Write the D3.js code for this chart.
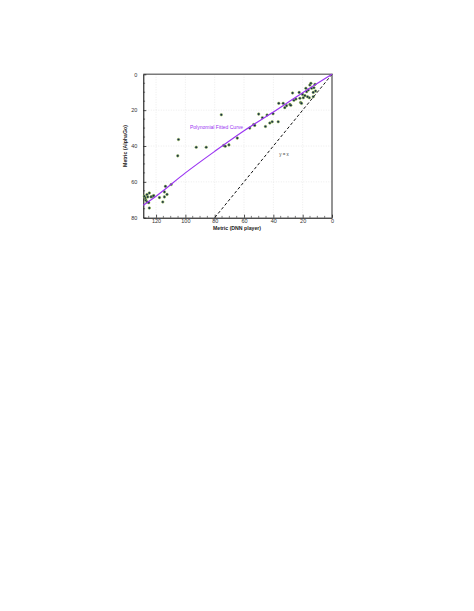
<!DOCTYPE html>
<html>
<head>
<meta charset="utf-8">
<script src="https://cdn.jsdelivr.net/npm/d3@7"></script>
<style>
  html, body { margin: 0; padding: 0; background: #fff; }
  svg { display: block; font-family: "Liberation Sans", Arial, sans-serif; }
</style>
</head>
<body>
<div id="chart"></div>
<script>
// Scatter points: [DNN player metric, AlphaGo metric]
const dnnValues = [
  126.2, 124.6, 125.7, 127.3, 126.9, 126.2, 125.0, 128.0, 124.6, 122.3,
  121.6, 123.4, 117.7, 115.4, 114.3, 114.3, 113.6, 112.5, 109.7, 105.2,
  104.7, 92.6, 85.8, 75.5, 73.9, 72.8, 70.3, 64.6, 56.1, 53.4,
  52.7, 50.0, 47.5, 45.4, 44.3, 42.4, 40.8, 40.2, 36.7, 36.3,
  33.3, 32.2, 31.0, 28.7, 28.1, 26.9, 26.0, 24.6, 22.4, 21.9,
  21.4, 20.8, 20.1, 18.5, 17.8, 17.3, 16.2, 15.5, 15.1, 14.4,
  13.9, 12.8, 11.6, 11.2, 12.3, 16.7, 19.6, 12.8
];
const alphaGoValues = [
  67.1, 66.2, 68.4, 69.0, 70.3, 71.2, 71.6, 68.0, 74.6, 68.1,
  67.7, 68.4, 68.8, 71.2, 65.6, 68.4, 62.5, 67.0, 61.5, 45.5,
  36.4, 40.7, 40.7, 22.6, 39.7, 40.1, 39.4, 35.6, 30.0, 28.0,
  28.5, 22.2, 24.2, 29.1, 22.7, 27.2, 26.5, 22.0, 26.5, 16.2,
  16.2, 18.6, 17.5, 16.8, 17.3, 10.4, 14.5, 13.8, 10.1, 13.4,
  15.7, 16.2, 11.2, 11.9, 7.8, 9.7, 8.8, 13.1, 6.0, 5.0,
  7.8, 10.1, 5.6, 9.3, 7.5, 12.5, 13.1, 12.5
];

// Polynomial fitted curve
const curveX = [0, 20, 40, 60, 80, 100, 120, 128.7];
const curveY = [0, 10.3, 21, 31.5, 43, 55, 68, 73];

// Reference line y = x
const refX = [0, 80];
const refY = [0, 80];

const xTicks = [120, 100, 80, 60, 40, 20, 0];
const yTicks = [0, 20, 40, 60, 80];

const width = 474;
const height = 611;

const svg = d3.select('#chart')
  .append('svg')
  .attr('width', width)
  .attr('height', height);

// Scales (x axis runs right to left)
const x = d3.scaleLinear().domain([128.7, 0]).range([143.3, 332]);
const y = d3.scaleLinear().domain([0, 80]).range([74.3, 217.7]);

const [plotLeft, plotRight] = x.range();
const [plotTop, plotBottom] = y.range();

// Grid
const grid = svg.append('g').attr('stroke', '#d8d8d8').attr('stroke-width', 0.5)
  .attr('stroke-dasharray', '1 1.5');
grid.selectAll('.gx').data(xTicks.filter((d) => d !== 0))
  .join('line')
  .attr('x1', (d) => x(d)).attr('x2', (d) => x(d))
  .attr('y1', plotTop).attr('y2', plotBottom);
grid.selectAll('.gy').data(yTicks.filter((d) => d !== 0 && d !== 80))
  .join('line')
  .attr('y1', (d) => y(d)).attr('y2', (d) => y(d))
  .attr('x1', plotLeft).attr('x2', plotRight);

// Frame: top/right grey
svg.append('path')
  .attr('d', `M${plotLeft},${plotTop}H${plotRight}V${plotBottom}`)
  .attr('fill', 'none')
  .attr('stroke', '#7a7a7a')
  .attr('stroke-width', 1.6);

// X axis (ticks pointing inward)
const xAxis = svg.append('g')
  .attr('transform', `translate(0,${plotBottom})`)
  .call(d3.axisBottom(x).tickValues(xTicks).tickSize(-3).tickPadding(0).tickSizeOuter(0))
  .call((g) => g.select('.domain').attr('stroke', '#000').attr('stroke-width', 1));
xAxis.selectAll('.tick text')
  .attr('font-size', 5.5).attr('fill', '#333')
  .attr('y', 5.3).attr('dy', null);
xAxis.selectAll('.tick line').attr('stroke', '#222').attr('stroke-width', 0.8);
xAxis.selectAll('.minor')
  .data(d3.range(5, 128, 5).filter((d) => d % 20 !== 0))
  .join('line')
  .attr('x1', (d) => x(d)).attr('x2', (d) => x(d))
  .attr('y1', 0).attr('y2', -1.8)
  .attr('stroke', '#222').attr('stroke-width', 0.6);

// Y axis (ticks pointing inward)
const yAxis = svg.append('g')
  .attr('transform', `translate(${plotLeft},0)`)
  .call(d3.axisLeft(y).tickValues(yTicks).tickSize(-3).tickPadding(6).tickSizeOuter(0))
  .call((g) => g.select('.domain').attr('stroke', '#000').attr('stroke-width', 1));
yAxis.selectAll('.tick text').attr('font-size', 5.5).attr('fill', '#333');
yAxis.selectAll('.tick line').attr('stroke', '#222').attr('stroke-width', 0.8);
yAxis.selectAll('.minor')
  .data(d3.range(5, 80, 5).filter((d) => d % 20 !== 0))
  .join('line')
  .attr('y1', (d) => y(d)).attr('y2', (d) => y(d))
  .attr('x1', 0).attr('x2', 1.8)
  .attr('stroke', '#222').attr('stroke-width', 0.6);

// Axis titles
svg.append('text')
  .attr('x', 237)
  .attr('y', plotBottom + 11.8)
  .attr('text-anchor', 'middle')
  .attr('font-size', 5.2)
  .attr('font-weight', 'bold')
  .attr('fill', '#222')
  .text('Metric (DNN player)');

svg.append('text')
  .attr('transform', `translate(${plotLeft - 16.5},${(plotTop + plotBottom) / 2}) rotate(-90)`)
  .attr('text-anchor', 'middle')
  .attr('font-size', 5.2)
  .attr('font-weight', 'bold')
  .attr('fill', '#222')
  .text('Metric (AlphaGo)');

// y = x dashed line
svg.append('path')
  .datum(d3.zip(refX, refY))
  .attr('fill', 'none')
  .attr('stroke', '#111')
  .attr('stroke-width', 1)
  .attr('stroke-dasharray', '3 2.2')
  .attr('d', d3.line().x((d) => x(d[0])).y((d) => y(d[1])));

svg.append('text')
  .attr('x', x(36))
  .attr('y', y(45.5))
  .attr('font-size', 4.5)
  .attr('fill', '#444')
  .text('y = x');

// Scatter points
svg.append('g')
  .selectAll('circle')
  .data(d3.zip(dnnValues, alphaGoValues))
  .join('circle')
  .attr('cx', (d) => x(d[0]))
  .attr('cy', (d) => y(d[1]))
  .attr('r', 1.3)
  .attr('fill', '#15284f')
  .attr('stroke', '#a6d14a')
  .attr('stroke-width', 0.5);

// Polynomial fitted curve
svg.append('path')
  .datum(d3.zip(curveX, curveY))
  .attr('fill', 'none')
  .attr('stroke', '#9b35f2')
  .attr('stroke-width', 1.2)
  .attr('d', d3.line().x((d) => x(d[0])).y((d) => y(d[1])).curve(d3.curveMonotoneX));

svg.append('text')
  .attr('x', 190)
  .attr('y', 128.5)
  .attr('font-size', 5)
  .attr('fill', '#9b35f2')
  .text('Polynomial Fitted Curve');
</script>
</body>
</html>
